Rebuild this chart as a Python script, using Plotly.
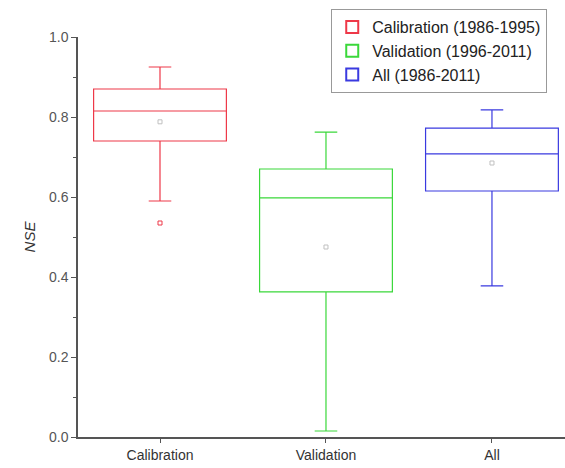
import plotly.graph_objects as go

categories = ["Calibration", "Validation", "All"]
legend_names = ["Calibration (1986-1995)", "Validation (1996-2011)", "All (1986-2011)"]
lower_fence = [0.59, 0.015, 0.378]
q1_vals = [0.74, 0.363, 0.615]
median_vals = [0.815, 0.598, 0.708]
q3_vals = [0.87, 0.67, 0.772]
upper_fence = [0.925, 0.762, 0.818]
mean_vals = [0.788, 0.475, 0.685]
outlier_x = ["Calibration"]
outlier_y = [0.535]
colors = ["#ee3848", "#3ad83a", "#3a3ae0"]

fig = go.Figure()
for i, cat in enumerate(categories):
    fig.add_trace(go.Box(
        x=[cat], q1=[q1_vals[i]], median=[median_vals[i]], q3=[q3_vals[i]],
        lowerfence=[lower_fence[i]], upperfence=[upper_fence[i]],
        name=legend_names[i], line=dict(color=colors[i], width=1.2),
        fillcolor="rgba(255,255,255,0)", width=0.8, whiskerwidth=0.17,
        boxpoints=False,
    ))
    fig.add_trace(go.Scatter(
        x=[cat], y=[mean_vals[i]], mode="markers", showlegend=False,
        marker=dict(symbol="square", size=4, color="rgba(0,0,0,0)",
                    line=dict(color="#c0c0c0", width=1)),
    ))
fig.add_trace(go.Scatter(
    x=outlier_x, y=outlier_y, mode="markers", showlegend=False,
    marker=dict(symbol="square", size=4, color="rgba(0,0,0,0)",
                line=dict(color=colors[0], width=1)),
))

fig.update_layout(
    width=565, height=468,
    margin=dict(l=78, r=0, t=37, b=31),
    paper_bgcolor="white", plot_bgcolor="white",
    font=dict(family="Liberation Sans, Arial, sans-serif", size=13, color="#333"),
    boxmode="overlay",
    showlegend=True,
    legend=dict(x=0.52, y=1.07, xanchor="left", yanchor="top",
                bordercolor="#999", borderwidth=1, bgcolor="white",
                font=dict(size=16, color="#222"), tracegroupgap=0,
                itemsizing="constant"),
    xaxis=dict(type="category", range=[-0.494, 2.44], showline=True,
               linecolor="#555", linewidth=1.5, ticks="outside", ticklen=4,
               tickcolor="#555", showgrid=False, zeroline=False,
               tickfont=dict(size=14, color="#333")),
    yaxis=dict(range=[0, 1.0], dtick=0.2, tickformat=".1f", showline=True,
               linecolor="#555", linewidth=1.5, ticks="outside", ticklen=5,
               tickcolor="#555", showgrid=False, zeroline=False,
               minor=dict(dtick=0.1, ticks="outside", ticklen=3, tickcolor="#555"),
               title=dict(text="<i>NSE</i>", font=dict(size=15, color="#333"), standoff=10),
               tickfont=dict(size=14, color="#555")),
)

fig.write_html("out.html")
